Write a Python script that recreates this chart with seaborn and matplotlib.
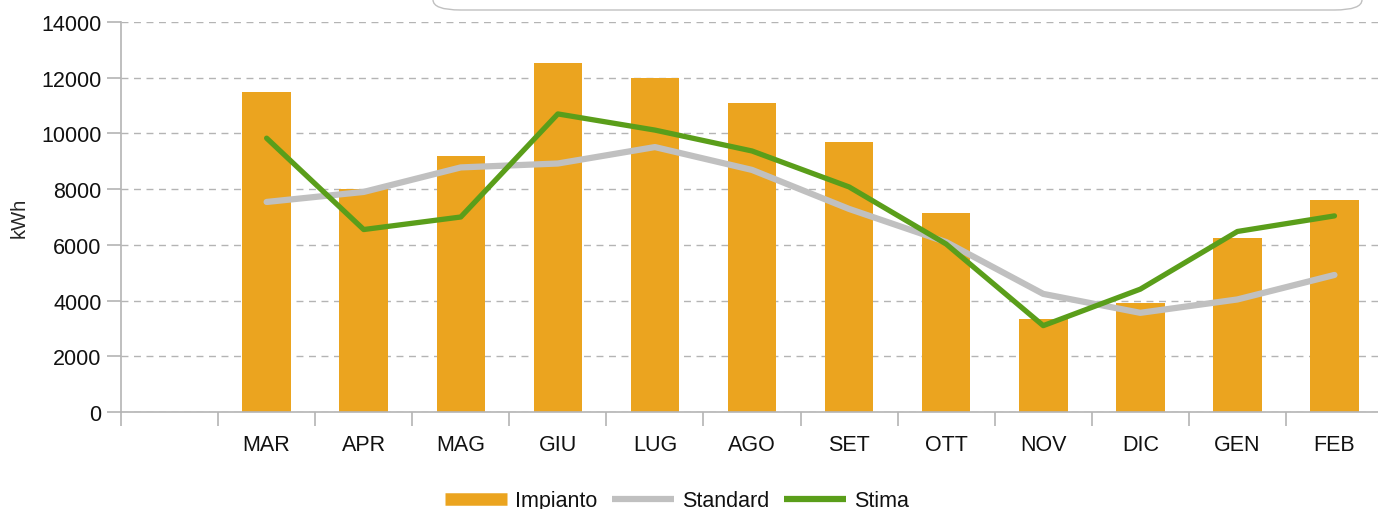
import matplotlib
matplotlib.use('Agg')
import matplotlib.pyplot as plt
import seaborn as sns
import pandas as pd
from matplotlib.patches import FancyBboxPatch
from matplotlib.lines import Line2D
from matplotlib.ticker import FixedLocator

# Monthly values (kWh)
mesi = ['MAR', 'APR', 'MAG', 'GIU', 'LUG', 'AGO', 'SET', 'OTT', 'NOV', 'DIC', 'GEN', 'FEB']
impianto = [11500, 8000, 9200, 12530, 12000, 11100, 9700, 7150, 3340, 3920, 6250, 7620]
standard = [7540, 7900, 8780, 8920, 9510, 8690, 7290, 6100, 4240, 3560, 4040, 4920]
stima = [9830, 6550, 7000, 10700, 10120, 9370, 8080, 6030, 3100, 4410, 6480, 7040]

df = pd.DataFrame({'Mese': mesi, 'Impianto': impianto, 'Standard': standard, 'Stima': stima})
df['pos'] = range(len(mesi))

sns.set_style('white')
plt.rcParams['font.family'] = ['Liberation Sans', 'DejaVu Sans']
plt.rcParams['text.color'] = '#111111'
plt.rcParams['xtick.labelcolor'] = '#111111'
plt.rcParams['ytick.labelcolor'] = '#111111'

orange = '#EBA41F'
grey = '#C0C0C0'
green = '#5A9E1A'

fig = plt.figure(figsize=(13.78, 5.10), dpi=100)
# the plot area runs slightly past the right edge of the picture
ax = fig.add_axes([121 / 1378, 97 / 510, 1262 / 1378, 390 / 510])

sns.barplot(data=df, x='Mese', y='Impianto', order=mesi, color=orange,
            saturation=1, width=0.5, linewidth=0, ax=ax, zorder=2)
sns.lineplot(data=df, x='pos', y='Standard', color=grey, linewidth=4.5, ax=ax, zorder=3)
sns.lineplot(data=df, x='pos', y='Stima', color=green, linewidth=3.8, ax=ax, zorder=4)

ax.set_xlim(-1.5, len(mesi) - 0.5)
ax.set_ylim(0, 14000)
ax.set_yticks(range(0, 14001, 2000))
ax.yaxis.grid(True, linestyle=(0, (5, 4)), color='#B4B4B4', linewidth=1)
ax.set_axisbelow(True)

ax.set_xticks(range(len(mesi)))
ax.set_xticklabels(mesi)
ax.xaxis.set_minor_locator(FixedLocator([i - 0.5 for i in range(-1, len(mesi) + 1)]))
ax.tick_params(axis='x', which='major', length=0, pad=16, labelsize=15.5)
ax.tick_params(axis='x', which='minor', length=10, color='#B4B4B4', width=1.2, bottom=True)
ax.tick_params(axis='y', length=10, color='#B4B4B4', width=1.2, left=True, labelsize=15.5, pad=4)

ax.set_xlabel('')
ax.set_ylabel('kWh', fontsize=14.5, labelpad=9)
for side in ['top', 'right']:
    ax.spines[side].set_visible(False)
for side in ['left', 'bottom']:
    ax.spines[side].set_color('#B4B4B4')
    ax.spines[side].set_linewidth(1.2)

handles = [
    Line2D([0], [0], color=orange, linewidth=9, solid_capstyle='butt'),
    Line2D([0], [0], color=grey, linewidth=4.5, solid_capstyle='butt'),
    Line2D([0], [0], color=green, linewidth=4.5, solid_capstyle='butt'),
]
fig.legend(handles, ['Impianto', 'Standard', 'Stima'], loc='center',
           bbox_to_anchor=(677 / 1378, 1 - 502 / 510), ncol=3, frameon=False,
           fontsize=15.5, handlelength=2.85, handletextpad=0.38, columnspacing=0.7,
           borderpad=0, borderaxespad=0)

# partial rounded frame at the top
box = FancyBboxPatch((433 / 1378, 1 - 11 / 510), (1362 - 433) / 1378, 0.2,
                     boxstyle='round,pad=0,rounding_size=0.02', transform=fig.transFigure,
                     facecolor='white', edgecolor='#C0C0C0', linewidth=1, zorder=10)
fig.patches.append(box)

fig.savefig('out.png', dpi=100)
